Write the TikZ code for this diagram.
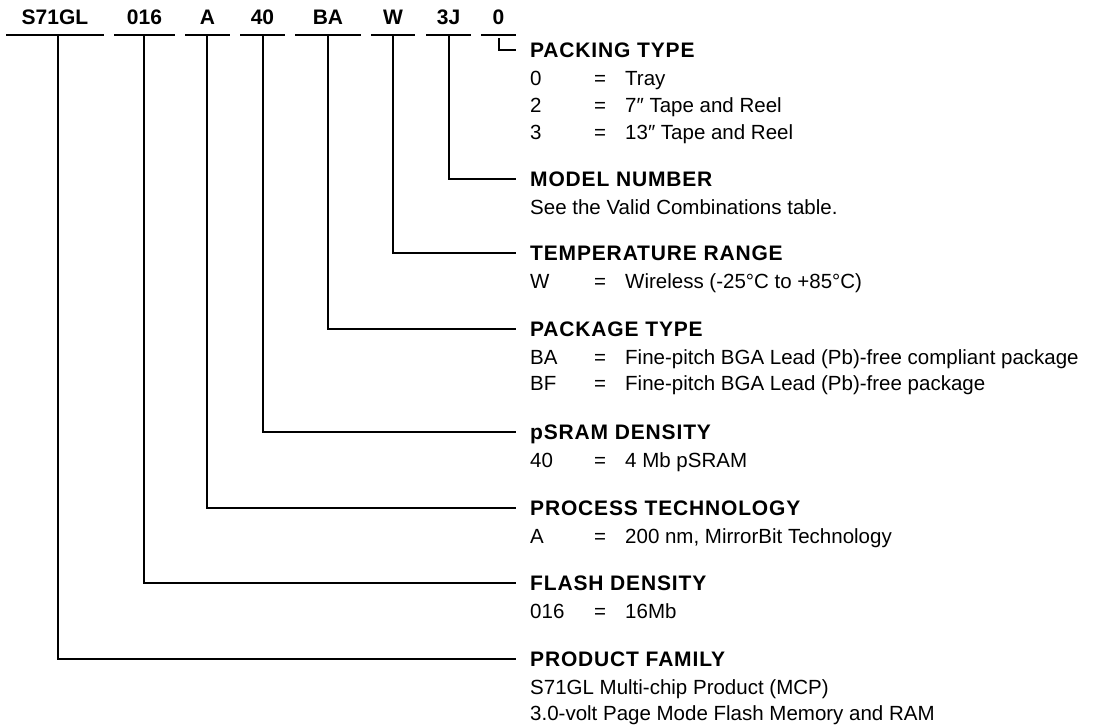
\documentclass[tikz,border=0pt]{standalone}
\usepackage{fontspec}
\setmainfont{Liberation Sans}
\newfontfamily\headfont[LetterSpace=4]{Liberation Sans}
\begin{document}
\begin{tikzpicture}[x=1pt,y=-1pt,
  code/.style={font=\bfseries\fontsize{21}{25}\selectfont, anchor=base, inner sep=0pt},
  head/.style={font=\headfont\bfseries\fontsize{21}{25}\selectfont, anchor=base west, inner sep=0pt},
  body/.style={font=\fontsize{20.5}{24}\selectfont, anchor=base west, inner sep=0pt},
  eqs/.style={font=\fontsize{20.5}{24}\selectfont, anchor=base, inner sep=0pt},
  link/.style={line width=2pt, line join=miter}]
\useasboundingbox (0,0) rectangle (1096,728);
% code letters
\node[code] (c1) at (55,24) {S71GL};
\node[code] (c2) at (144.5,24) {016};
\node[code] (c3) at (207.5,24) {A};
\node[code] (c4) at (262.5,24) {40};
\node[code] (c5) at (328,24) {BA};
\node[code] (c6) at (393,24) {W};
\node[code] (c7) at (448.5,24) {3J};
\node[code] (c8) at (498.5,24) {0};
% underlines
\coordinate (a1) at (6,35);   \coordinate (b1) at (104,35);
\coordinate (a2) at (114,35); \coordinate (b2) at (175,35);
\coordinate (a3) at (185,35); \coordinate (b3) at (230,35);
\coordinate (a4) at (240,35); \coordinate (b4) at (285,35);
\coordinate (a5) at (295,35); \coordinate (b5) at (361,35);
\coordinate (a6) at (371,35); \coordinate (b6) at (415,35);
\coordinate (a7) at (426,35); \coordinate (b7) at (471,35);
\coordinate (a8) at (481,35); \coordinate (b8) at (516,35);
\foreach \i in {1,...,8} {\draw[link] (a\i) -- (b\i);}
% vertical starts
\coordinate (t1) at (58,35);
\coordinate (t2) at (144,35);
\coordinate (t3) at (207,35);
\coordinate (t4) at (263,35);
\coordinate (t5) at (328,35);
\coordinate (t6) at (393,35);
\coordinate (t7) at (449,35);
\coordinate (t8) at (499,38);
% line ends
\coordinate (e1) at (516,659);
\coordinate (e2) at (516,583);
\coordinate (e3) at (516,508);
\coordinate (e4) at (516,432);
\coordinate (e5) at (516,329);
\coordinate (e6) at (516,253);
\coordinate (e7) at (516,179);
\coordinate (e8) at (516,50);
\foreach \i in {1,...,8} {\draw[link] (t\i) |- (e\i);}
% PACKING TYPE
\node[head] (h8) at (530,57) {PACKING TYPE};
\node[body] (k8a) at (530,85) {0};   \node[eqs] (q8a) at (600,85) {=};  \node[body] (v8a) at (625,85) {Tray};
\node[body] (k8b) at (530,112) {2};  \node[eqs] (q8b) at (600,112) {=}; \node[body] (v8b) at (625,112) {7″ Tape and Reel};
\node[body] (k8c) at (530,139) {3};  \node[eqs] (q8c) at (600,139) {=}; \node[body] (v8c) at (625,139) {13″ Tape and Reel};
% MODEL NUMBER
\node[head] (h7) at (530,186) {MODEL NUMBER};
\node[body] (v7a) at (530,214) {See the Valid Combinations table.};
% TEMPERATURE RANGE
\node[head] (h6) at (530,260) {TEMPERATURE RANGE};
\node[body] (k6a) at (530,288) {W}; \node[eqs] (q6a) at (600,288) {=}; \node[body] (v6a) at (625,288) {Wireless (-25°C to +85°C)};
% PACKAGE TYPE
\node[head] (h5) at (530,336) {PACKAGE TYPE};
\node[body] (k5a) at (530,364) {BA}; \node[eqs] (q5a) at (600,364) {=}; \node[body] (v5a) at (625,364) {Fine-pitch BGA Lead (Pb)-free compliant package};
\node[body] (k5b) at (530,390) {BF}; \node[eqs] (q5b) at (600,390) {=}; \node[body] (v5b) at (625,390) {Fine-pitch BGA Lead (Pb)-free package};
% pSRAM DENSITY
\node[head] (h4) at (530,439) {pSRAM DENSITY};
\node[body] (k4a) at (530,467) {40}; \node[eqs] (q4a) at (600,467) {=}; \node[body] (v4a) at (625,467) {4 Mb pSRAM};
% PROCESS TECHNOLOGY
\node[head] (h3) at (530,515) {PROCESS TECHNOLOGY};
\node[body] (k3a) at (530,543) {A}; \node[eqs] (q3a) at (600,543) {=}; \node[body] (v3a) at (625,543) {200 nm, MirrorBit Technology};
% FLASH DENSITY
\node[head] (h2) at (530,590) {FLASH DENSITY};
\node[body] (k2a) at (530,618) {016}; \node[eqs] (q2a) at (600,618) {=}; \node[body] (v2a) at (625,618) {16Mb};
% PRODUCT FAMILY
\node[head] (h1) at (530,666) {PRODUCT FAMILY};
\node[body] (v1a) at (530,694) {S71GL Multi-chip Product (MCP)};
\node[body] (v1b) at (530,720) {3.0-volt Page Mode Flash Memory and RAM};
\end{tikzpicture}
\end{document}
